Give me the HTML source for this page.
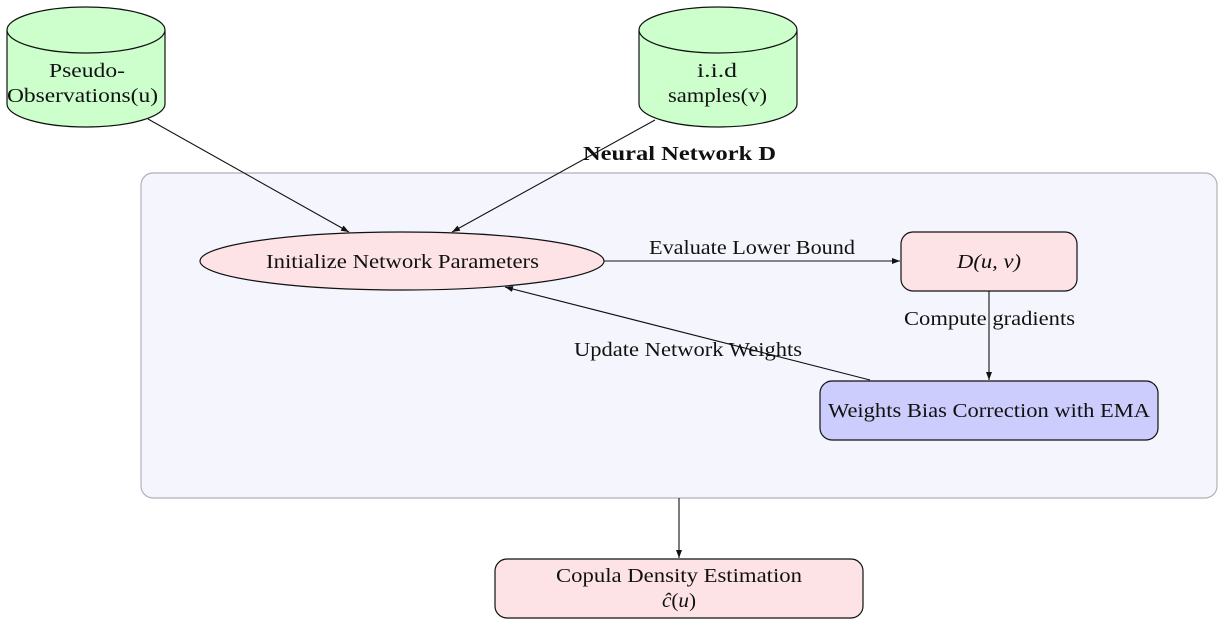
<!DOCTYPE html>
<html><head><meta charset="utf-8"><style>
html,body{margin:0;padding:0;background:#fff;}
svg{display:block;}
text{font-family:"Liberation Serif",serif;font-size:20px;fill:#111;}
</style></head><body>
<svg width="1224" height="625" viewBox="0 0 1224 625" xmlns="http://www.w3.org/2000/svg">
<defs>
<marker id="a" markerWidth="8" markerHeight="6" refX="8" refY="3" orient="auto" markerUnits="userSpaceOnUse">
<path d="M0,0 L8,3 L0,6 Z" fill="#111"/></marker>
</defs>
<rect x="141" y="173" width="1076" height="325" rx="12" fill="#f5f6fd" stroke="#b0b0b8" stroke-width="1.2"/>
<g stroke="#111" stroke-width="1.2" fill="#ccffcc">
<path d="M7,30 L7,104 A79,23 0 0 0 165,104 L165,30"/>
<ellipse cx="86" cy="30" rx="79" ry="23"/>
<path d="M639,30 L639,104 A79,23 0 0 0 797,104 L797,30"/>
<ellipse cx="718" cy="30" rx="79" ry="23"/>
</g>
<text x="49" y="77" textLength="76" lengthAdjust="spacingAndGlyphs">Pseudo-</text>
<text x="7" y="102" textLength="151" lengthAdjust="spacingAndGlyphs">Observations(u)</text>
<text x="697" y="77" textLength="40" lengthAdjust="spacingAndGlyphs">i.i.d</text>
<text x="668" y="102" textLength="99" lengthAdjust="spacingAndGlyphs">samples(v)</text>
<text x="583" y="160" textLength="193" lengthAdjust="spacingAndGlyphs" style="font-weight:bold">Neural Network D</text>
<ellipse cx="402" cy="261" rx="202" ry="29" fill="#fde3e5" stroke="#111" stroke-width="1.2"/>
<text x="266" y="268" textLength="273" lengthAdjust="spacingAndGlyphs">Initialize Network Parameters</text>
<rect x="901" y="232" width="176" height="59" rx="12" fill="#fde3e5" stroke="#111" stroke-width="1.2"/>
<text x="957" y="268" textLength="64" lengthAdjust="spacingAndGlyphs" style="font-style:italic">D(u, v)</text>
<rect x="820" y="381" width="338" height="59" rx="12" fill="#ccccfd" stroke="#111" stroke-width="1.2"/>
<text x="828" y="417" textLength="322" lengthAdjust="spacingAndGlyphs">Weights Bias Correction with EMA</text>
<rect x="495" y="559" width="368" height="59" rx="12" fill="#fde3e5" stroke="#111" stroke-width="1.2"/>
<text x="556" y="582" textLength="246" lengthAdjust="spacingAndGlyphs">Copula Density Estimation</text>
<text x="662" y="607" textLength="34" lengthAdjust="spacingAndGlyphs"><tspan style="font-style:italic">ĉ</tspan>(<tspan style="font-style:italic">u</tspan>)</text>
<g stroke="#111" stroke-width="1.1" fill="none" marker-end="url(#a)">
<line x1="148" y1="119" x2="349" y2="232"/>
<line x1="655" y1="120" x2="452" y2="232"/>
<line x1="604" y1="261" x2="900" y2="261"/>
<line x1="989" y1="291" x2="989" y2="380"/>
<line x1="870" y1="380" x2="505" y2="287"/>
<line x1="679" y1="498" x2="679" y2="558"/>
</g>
<text x="649" y="254" textLength="206" lengthAdjust="spacingAndGlyphs">Evaluate Lower Bound</text>
<text x="904" y="325" textLength="171" lengthAdjust="spacingAndGlyphs">Compute gradients</text>
<text x="574" y="356" textLength="228" lengthAdjust="spacingAndGlyphs">Update Network Weights</text>
</svg>
</body></html>
